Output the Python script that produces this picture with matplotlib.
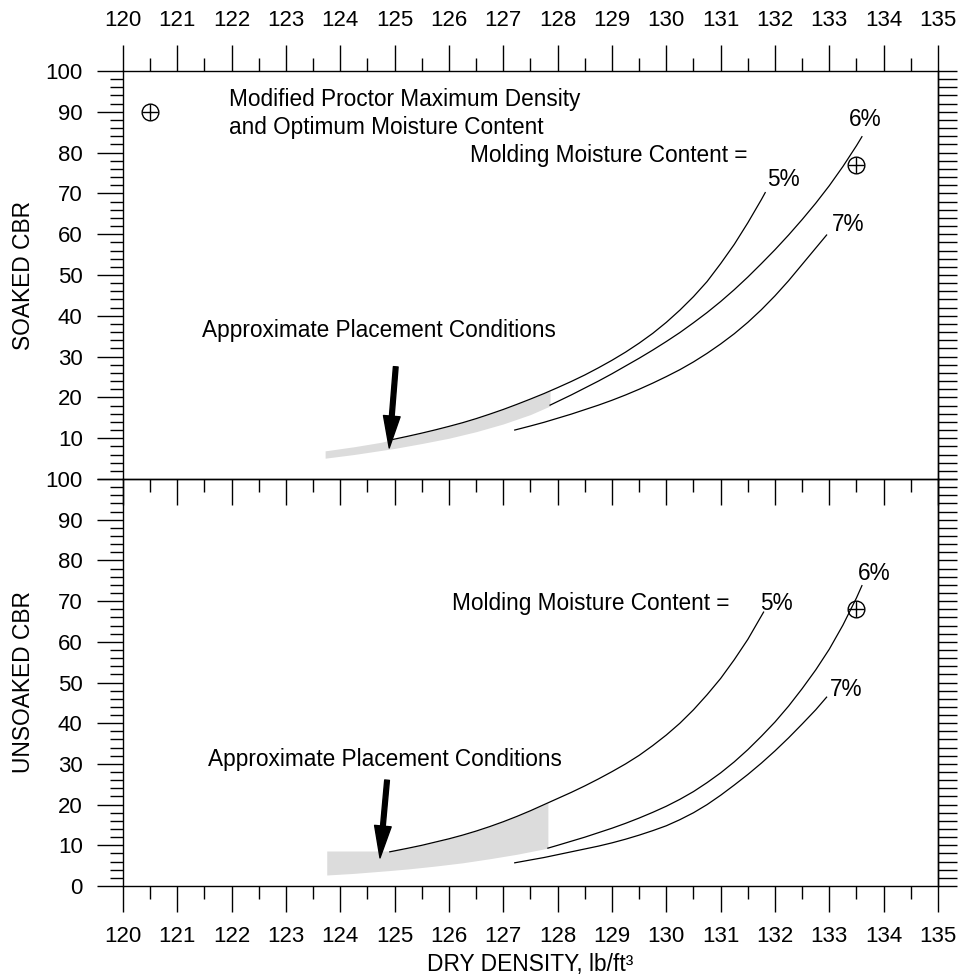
import numpy as np
import matplotlib
matplotlib.use('Agg')
import matplotlib.pyplot as plt
from matplotlib.ticker import MultipleLocator

plt.rcParams['font.family'] = ['Liberation Sans', 'DejaVu Sans']
plt.rcParams['font.size'] = 16

# soaked CBR curves (dry density, CBR) for each molding moisture content
soaked_5_x = [124.97, 125.25, 125.5, 125.75, 126.0, 126.25, 126.5, 126.75, 127.0, 127.25,
              127.5, 127.75, 128.0, 128.25, 128.5, 128.75, 129.0, 129.25, 129.5, 129.75,
              130.0, 130.25, 130.5, 130.75, 131.0, 131.25, 131.5, 131.75, 131.82]
soaked_5_y = [9.7, 10.5, 11.25, 12.05, 12.9, 13.8, 14.8, 15.9, 17.05, 18.3,
              19.6, 20.95, 22.4, 23.9, 25.5, 27.25, 29.1, 31.1, 33.3, 35.7,
              38.4, 41.4, 44.7, 48.4, 52.8, 57.5, 62.8, 68.5, 70.2]
soaked_6_x = [127.86, 128.0, 128.25, 128.5, 128.75, 129.0, 129.25, 129.5, 129.75, 130.0,
              130.25, 130.5, 130.75, 131.0, 131.25, 131.5, 131.75, 132.0, 132.25, 132.5,
              132.75, 133.0, 133.25, 133.5, 133.6]
soaked_6_y = [18.1, 19.0, 20.6, 22.3, 24.0, 25.8, 27.7, 29.6, 31.6, 33.7,
              35.9, 38.3, 40.8, 43.5, 46.4, 49.5, 52.8, 56.2, 59.8, 63.6,
              67.6, 71.9, 76.6, 81.7, 83.9]
soaked_7_x = [127.21, 127.5, 127.75, 128.0, 128.25, 128.5, 128.75, 129.0, 129.25, 129.5,
              129.75, 130.0, 130.25, 130.5, 130.75, 131.0, 131.25, 131.5, 131.75, 132.0,
              132.25, 132.5, 132.75, 132.95]
soaked_7_y = [12.0, 13.0, 13.9, 14.9, 15.9, 17.0, 18.1, 19.3, 20.6, 22.0,
              23.5, 25.1, 26.8, 28.7, 30.8, 33.1, 35.6, 38.4, 41.5, 44.9,
              48.6, 52.6, 56.6, 59.8]

# unsoaked CBR curves
unsoaked_5_x = [124.91, 125.25, 125.5, 125.75, 126.0, 126.25, 126.5, 126.75, 127.0, 127.25,
                127.5, 127.75, 128.0, 128.25, 128.5, 128.75, 129.0, 129.25, 129.5, 129.75,
                130.0, 130.25, 130.5, 130.75, 131.0, 131.25, 131.5, 131.79]
unsoaked_5_y = [8.4, 9.3, 10.0, 10.8, 11.6, 12.5, 13.5, 14.6, 15.8, 17.1,
                18.5, 20.0, 21.5, 23.0, 24.6, 26.3, 28.1, 30.0, 32.1, 34.5,
                37.1, 40.0, 43.3, 47.0, 51.0, 55.6, 60.6, 67.3]
unsoaked_6_x = [127.82, 128.0, 128.25, 128.5, 128.75, 129.0, 129.25, 129.5, 129.75, 130.0,
                130.25, 130.5, 130.75, 131.0, 131.25, 131.5, 131.75, 132.0, 132.25, 132.5,
                132.75, 133.0, 133.25, 133.5, 133.6]
unsoaked_6_y = [9.3, 10.0, 11.0, 12.0, 13.1, 14.2, 15.4, 16.7, 18.1, 19.6,
                21.3, 23.2, 25.4, 27.8, 30.5, 33.5, 36.8, 40.3, 44.2, 48.5,
                53.1, 58.2, 64.1, 70.8, 73.8]
unsoaked_7_x = [127.21, 127.5, 127.75, 128.0, 128.25, 128.5, 128.75, 129.0, 129.25, 129.5,
                129.75, 130.0, 130.25, 130.5, 130.75, 131.0, 131.25, 131.5, 131.75, 132.0,
                132.25, 132.5, 132.75, 132.95]
unsoaked_7_y = [5.7, 6.4, 7.0, 7.7, 8.4, 9.1, 9.8, 10.6, 11.5, 12.5,
                13.6, 14.8, 16.3, 18.0, 20.0, 22.3, 24.8, 27.4, 30.2, 33.2,
                36.4, 39.8, 43.3, 46.4]

# approximate placement bands
soaked_band_x = [123.72, 124.25, 124.75, 125.0, 125.5, 126.0, 126.5, 127.0, 127.5, 127.86]
soaked_band_hi = [6.9, 7.9, 9.0, 9.8, 11.25, 12.9, 14.8, 17.05, 19.6, 21.6]
soaked_band_lo = [5.1, 6.0, 7.0, 7.5, 8.7, 10.0, 11.6, 13.5, 15.8, 17.9]
unsoaked_band_x = [123.75, 124.25, 124.91, 125.25, 125.75, 126.25, 126.75, 127.25, 127.82]
unsoaked_band_hi = [8.6, 8.6, 8.6, 9.3, 10.8, 12.5, 14.6, 17.1, 20.4]
unsoaked_band_lo = [2.7, 3.1, 3.8, 4.2, 4.9, 5.7, 6.7, 7.8, 9.3]

# modified proctor max density / optimum moisture points
proctor_x = 133.5
soaked_proctor_cbr = 77
unsoaked_proctor_cbr = 68

x_ticks = list(range(120, 136))
y_ticks = list(range(0, 101, 10))

fig = plt.figure(figsize=(9.58, 9.77), dpi=100)
ax1 = fig.add_axes([0.12839, 0.50972, 0.85073, 0.41760])
ax2 = fig.add_axes([0.12839, 0.09314, 0.85073, 0.41658])
ax2.patch.set_visible(False)


def style_axes(ax):
    ax.set_xlim(120, 135)
    ax.set_ylim(0, 100)
    ax.set_xticks(x_ticks)
    ax.xaxis.set_minor_locator(MultipleLocator(0.5))
    ax.set_yticks(y_ticks)
    ax.yaxis.set_minor_locator(MultipleLocator(2))
    ax.tick_params(which='major', length=19, width=1, pad=10)
    ax.tick_params(which='minor', length=9.5, width=1)
    ax.tick_params(axis='both', which='both', direction='out', right=False)
    for sp in ax.spines.values():
        sp.set_linewidth(1)
    sec = ax.secondary_yaxis('right')
    sec.set_yticks(y_ticks)
    sec.yaxis.set_minor_locator(MultipleLocator(2))
    sec.tick_params(which='both', direction='out', length=14, width=1, labelright=False)
    sec.spines['right'].set_linewidth(1)


style_axes(ax1)
style_axes(ax2)
ax1.tick_params(axis='x', which='both', top=True, bottom=True, labeltop=True, labelbottom=False)
# the 0 of the upper panel sits under the 100 of the lower one
ax1.set_yticklabels([''] + [str(v) for v in y_ticks[1:]])
ax2.tick_params(axis='x', which='both', top=False, bottom=True)

line_kw = dict(color='black', lw=0.9)
mark_kw = dict(color='black', ms=12, mew=1.0, ls='none')
arrow_kw = dict(facecolor='black', edgecolor='black', width=3.4, headwidth=12, headlength=23, shrink=0)
band_color = '#dcdcdc'
note_fs = 16.3
label_fs = 16.4

# top panel: soaked
ax1.fill_between(soaked_band_x, soaked_band_lo, soaked_band_hi, color=band_color, lw=0)
ax1.plot(soaked_5_x, soaked_5_y, **line_kw)
ax1.plot(soaked_6_x, soaked_6_y, **line_kw)
ax1.plot(soaked_7_x, soaked_7_y, **line_kw)
for x, y in [(120.5, 90), (proctor_x, soaked_proctor_cbr)]:
    ax1.plot(x, y, marker='o', mfc='none', **mark_kw)
    ax1.plot(x, y, marker='+', **mark_kw)
ax1.text(121.95, 92.9, 'Modified Proctor Maximum Density', va='center', fontsize=note_fs)
ax1.text(121.95, 86.1, 'and Optimum Moisture Content', va='center', fontsize=note_fs)
ax1.text(126.39, 79.4, 'Molding Moisture Content =', va='center', fontsize=note_fs)
ax1.text(131.85, 73.3, '5%', va='center', fontsize=note_fs)
ax1.text(133.36, 88.0, '6%', va='center', fontsize=note_fs)
ax1.text(133.05, 62.3, '7%', va='center', fontsize=note_fs)
ax1.text(121.45, 36.3, 'Approximate Placement Conditions', va='center', fontsize=note_fs)
ax1.annotate('', xy=(124.90, 7.6), xytext=(125.02, 27.5), arrowprops=arrow_kw)
ax1.text(-0.122, 0.5, 'SOAKED CBR', rotation=90, ha='center', va='center',
         transform=ax1.transAxes, fontsize=label_fs)

# bottom panel: unsoaked
ax2.fill_between(unsoaked_band_x, unsoaked_band_lo, unsoaked_band_hi, color=band_color, lw=0)
ax2.plot(unsoaked_5_x, unsoaked_5_y, **line_kw)
ax2.plot(unsoaked_6_x, unsoaked_6_y, **line_kw)
ax2.plot(unsoaked_7_x, unsoaked_7_y, **line_kw)
ax2.plot(proctor_x, unsoaked_proctor_cbr, marker='o', mfc='none', **mark_kw)
ax2.plot(proctor_x, unsoaked_proctor_cbr, marker='+', **mark_kw)
ax2.text(126.06, 69.3, 'Molding Moisture Content =', va='center', fontsize=note_fs)
ax2.text(131.72, 69.3, '5%', va='center', fontsize=note_fs)
ax2.text(133.53, 76.7, '6%', va='center', fontsize=note_fs)
ax2.text(133.01, 48.4, '7%', va='center', fontsize=note_fs)
ax2.text(121.56, 31.0, 'Approximate Placement Conditions', va='center', fontsize=note_fs)
ax2.annotate('', xy=(124.73, 6.9), xytext=(124.86, 26.0), arrowprops=arrow_kw)
ax2.text(-0.122, 0.5, 'UNSOAKED CBR', rotation=90, ha='center', va='center',
         transform=ax2.transAxes, fontsize=label_fs)
ax2.set_xlabel('DRY DENSITY, lb/ft³', labelpad=4, fontsize=label_fs)

fig.savefig('out.png', dpi=100)
